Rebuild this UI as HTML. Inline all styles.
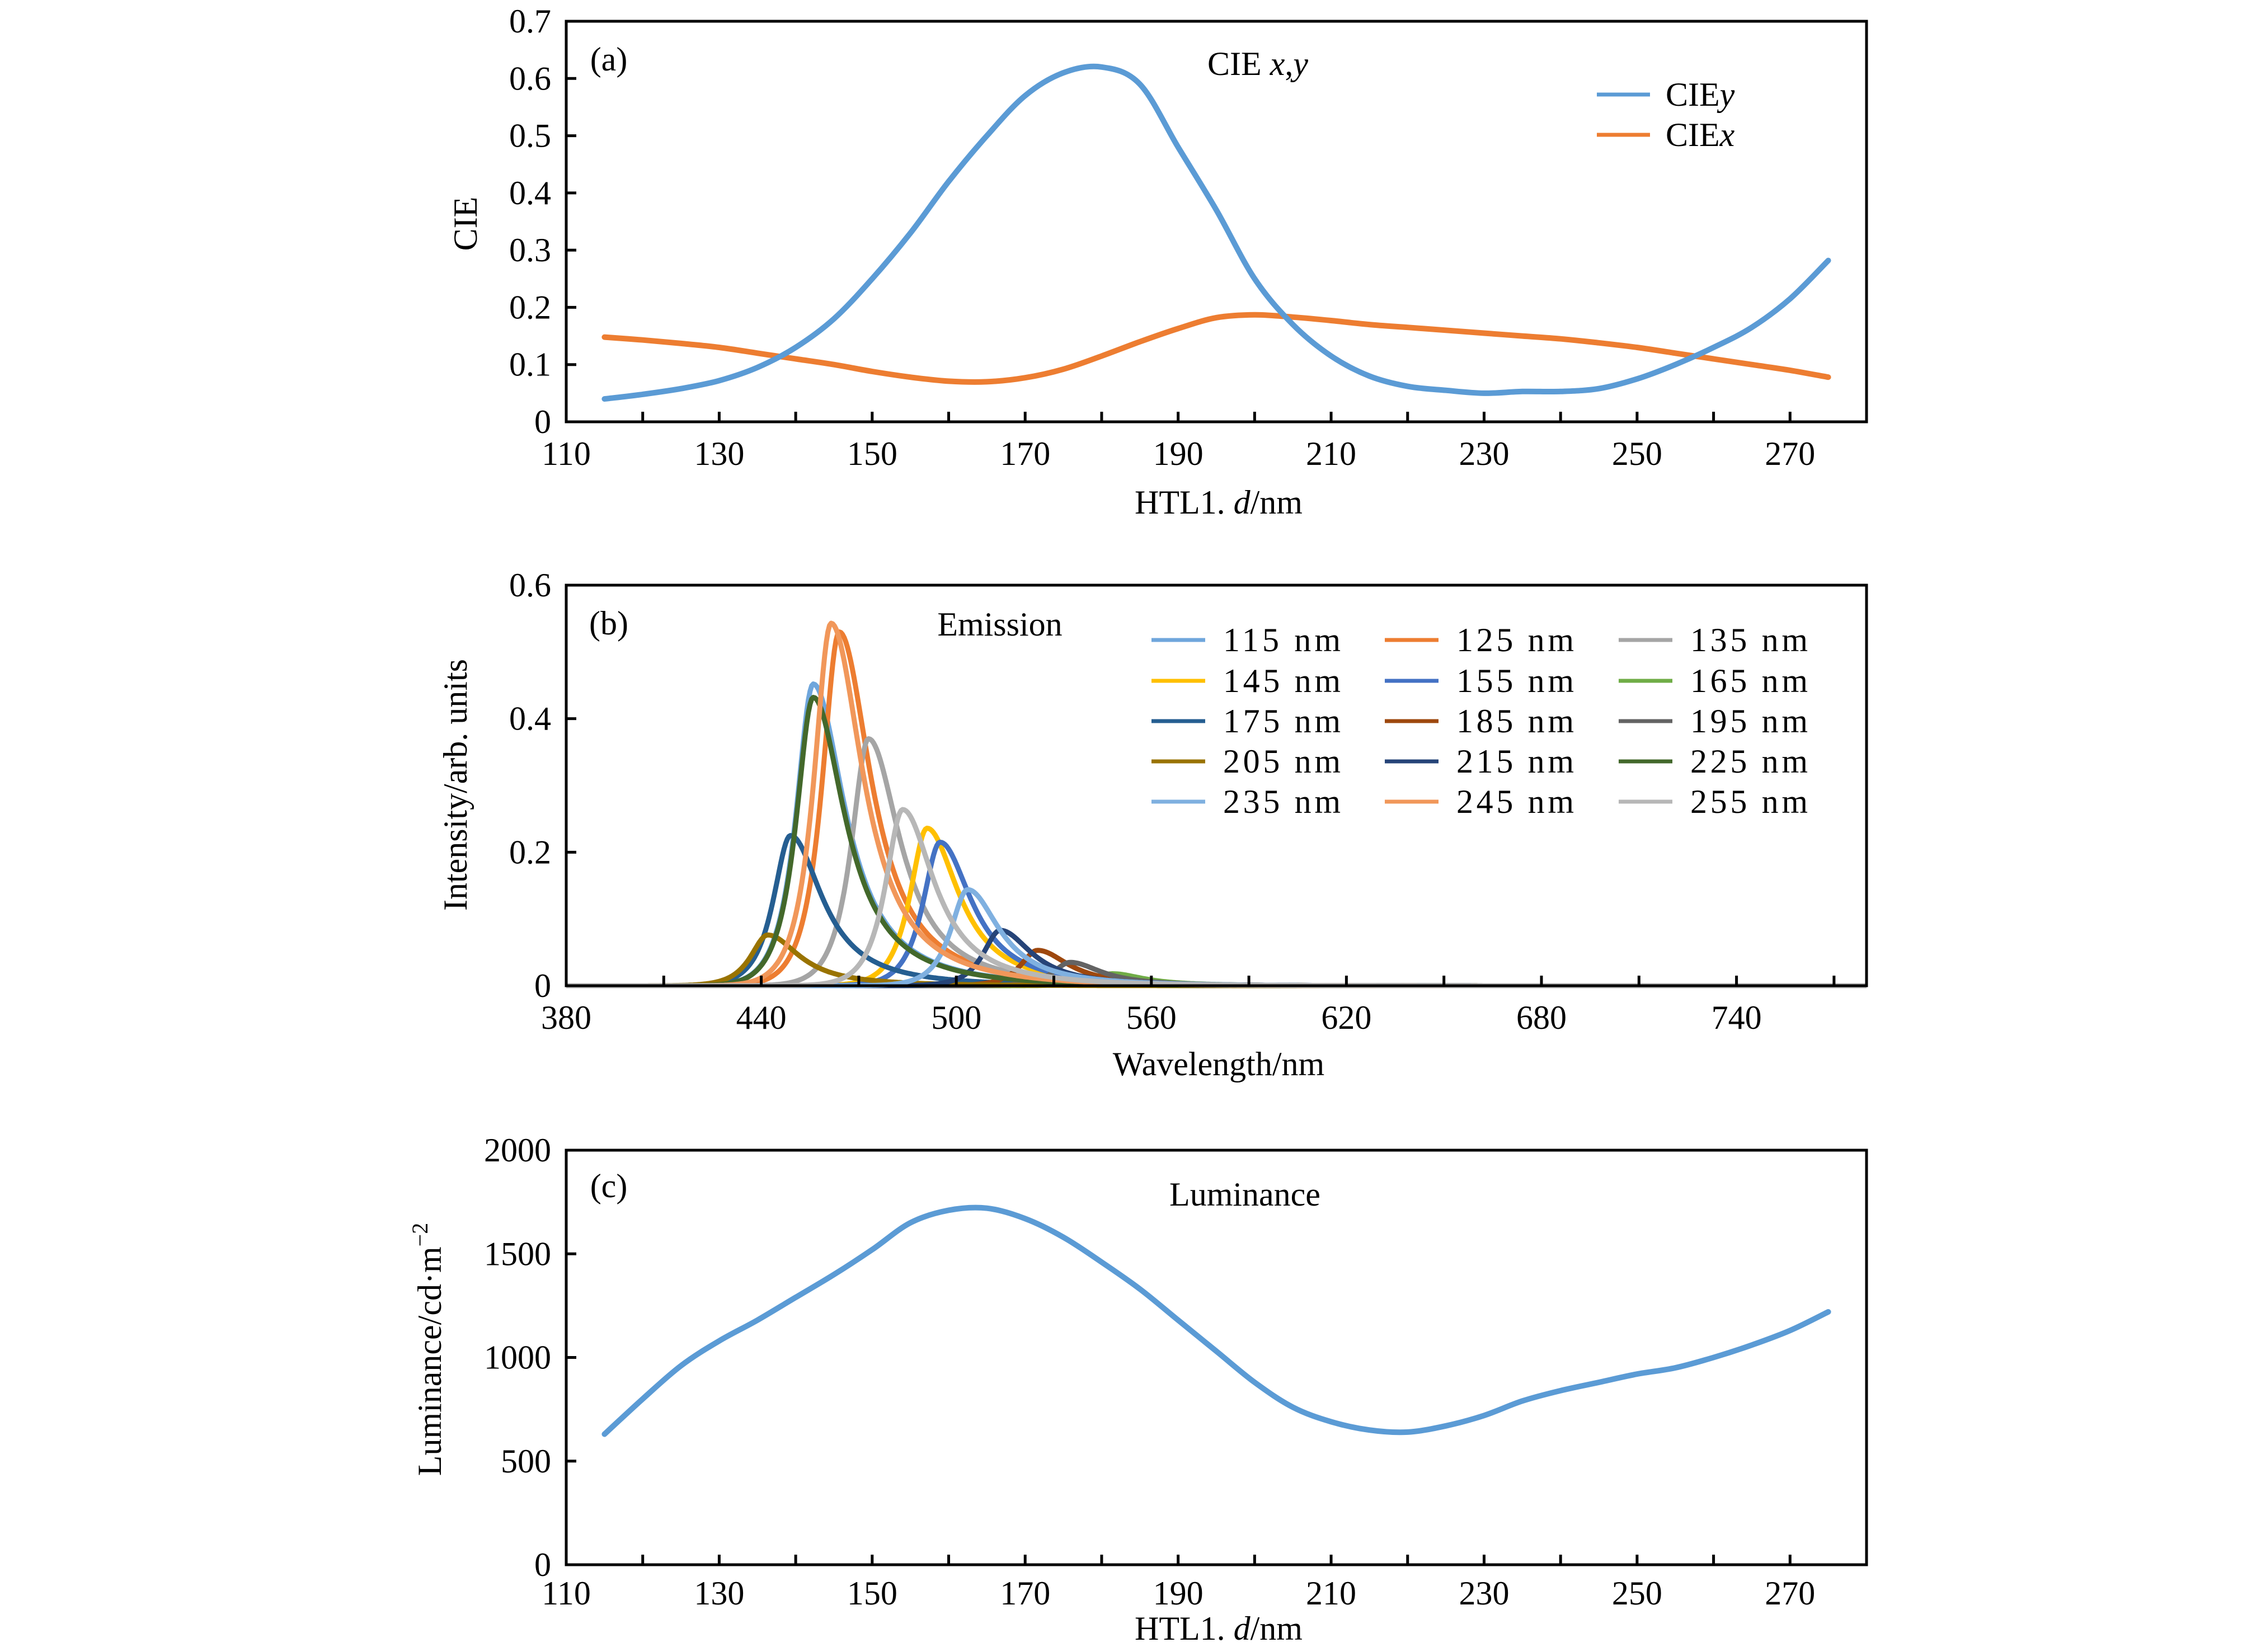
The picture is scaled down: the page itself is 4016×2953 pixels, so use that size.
<!DOCTYPE html>
<html><head><meta charset="utf-8"><style>
html,body{margin:0;padding:0;background:#fff;}
svg{display:block;}
text{font-family:"Liberation Serif",serif;fill:#000;}
</style></head><body>
<svg id="chart" width="4016" height="2953" viewBox="0 0 4016 2953" xmlns="http://www.w3.org/2000/svg"></svg>
<script>
// Panel (a) data
const cieX_d = [115,120,125,130,135,140,145,150,155,160,165,170,175,180,185,190,195,200,205,210,215,220,225,230,235,240,245,250,255,260,265,270,275];
const cieY = [0.04,0.048,0.058,0.072,0.095,0.13,0.18,0.25,0.33,0.42,0.5,0.57,0.61,0.62,0.59,0.48,0.37,0.25,0.17,0.115,0.08,0.062,0.055,0.05,0.053,0.053,0.058,0.075,0.1,0.13,0.165,0.215,0.282];
const cieXv = [0.148,0.143,0.137,0.13,0.12,0.11,0.1,0.088,0.078,0.071,0.07,0.077,0.092,0.115,0.14,0.163,0.182,0.187,0.183,0.177,0.17,0.165,0.16,0.155,0.15,0.145,0.138,0.13,0.12,0.11,0.1,0.09,0.078];
const aXTicks = ['110','130','150','170','190','210','230','250','270'];
const aYTicks = ['0','0.1','0.2','0.3','0.4','0.5','0.6','0.7'];
// Panel (b) data: emission peaks
const emLabels = ['115 nm','125 nm','135 nm','145 nm','155 nm','165 nm','175 nm','185 nm','195 nm','205 nm','215 nm','225 nm','235 nm','245 nm','255 nm'];
const emPeakWl = [456,464,473,491,495,548,449,525,535,442,513.5,456,503.5,461.5,483.5];
const emPeakI = [0.452,0.53,0.37,0.236,0.215,0.018,0.225,0.053,0.035,0.076,0.083,0.432,0.144,0.543,0.264];
const bXTicks = ['380','440','500','560','620','680','740'];
const bYTicks = ['0','0.2','0.4','0.6'];
// Panel (c) data
const lumX = [115,120,125,130,135,140,145,150,155,160,165,170,175,180,185,190,195,200,205,210,215,220,225,230,235,240,245,250,255,260,265,270,275];
const lumY = [630,800,960,1080,1180,1290,1400,1520,1650,1710,1720,1670,1580,1460,1330,1180,1030,880,760,690,650,640,670,720,790,840,880,920,950,1000,1060,1130,1220];
const cXTicks = ['110','130','150','170','190','210','230','250','270'];
const cYTicks = ['0','500','1000','1500','2000'];

const emColors = ['#6fa6dc','#ed7d31','#a5a5a5','#ffc000','#4472c4','#70ad47','#255e91','#9e480e','#636363','#997300','#264478','#43682b','#7fb0e0','#f1975a','#b7b7b7'];
const NS='http://www.w3.org/2000/svg';
const svg=document.getElementById('chart');
function mk(tag,attrs,parent){const e=document.createElementNS(NS,tag);for(const k in attrs)e.setAttribute(k,attrs[k]);(parent||svg).appendChild(e);return e;}
function txt(s,x,y,size,anchor,parent){const t=mk('text',{x:x,y:y,'font-size':size,'text-anchor':anchor||'middle'},parent);t.textContent=s;return t;}
function smooth(pts){let d='M'+pts[0][0].toFixed(1)+','+pts[0][1].toFixed(1);for(let i=0;i<pts.length-1;i++){const p0=pts[i-1]||pts[i],p1=pts[i],p2=pts[i+1],p3=pts[i+2]||p2;const c1=[p1[0]+(p2[0]-p0[0])/6,p1[1]+(p2[1]-p0[1])/6],c2=[p2[0]-(p3[0]-p1[0])/6,p2[1]-(p3[1]-p1[1])/6];d+='C'+c1[0].toFixed(1)+','+c1[1].toFixed(1)+' '+c2[0].toFixed(1)+','+c2[1].toFixed(1)+' '+p2[0].toFixed(1)+','+p2[1].toFixed(1);}return d;}

const L=1012,R=3336,FS=60,TL=18;
function frame(g,top,bot,name){const r=mk('rect',{x:L,y:top,width:R-L,height:bot-top,fill:'none',stroke:'#000','stroke-width':5},g);}

// ---------- Panel A ----------
(function(){
const g=mk('g',{});
const top=38,bot=754,x0=110,x1=280,y1=0.7;
const sx=v=>L+(v-x0)/(x1-x0)*(R-L), sy=v=>bot-v/y1*(bot-top);
frame(g,top,bot,'panel-a');
aYTicks.forEach(t=>{const y=sy(+t);if(+t>0&&+t<y1)mk('line',{x1:L,x2:L+TL,y1:y,y2:y,stroke:'#000','stroke-width':5},g);const e=txt(t,985,y+20,FS,'end',g);});
for(let v=120;v<280;v+=10){mk('line',{x1:sx(v),x2:sx(v),y1:bot,y2:bot-TL,stroke:'#000','stroke-width':5},g);}
aXTicks.forEach(t=>{const e=txt(t,sx(+t),831,FS,'middle',g);});
let e=txt('CIE',0,0,FS,'middle',g);e.setAttribute('transform','translate(852,400) rotate(-90)');
e=mk('text',{x:2178,y:918,'font-size':FS,'text-anchor':'middle'},g);e.innerHTML='HTL1. <tspan font-style="italic">d</tspan>/nm';
e=txt('(a)',1088,126,FS,'middle',g);
e=mk('text',{x:2248,y:134,'font-size':FS,'text-anchor':'middle'},g);e.innerHTML='CIE <tspan font-style="italic">x</tspan>,<tspan font-style="italic">y</tspan>';
let p=mk('path',{d:smooth(cieX_d.map((x,i)=>[sx(x),sy(cieXv[i])])),fill:'none',stroke:'#ed7d31','stroke-width':10,'stroke-linecap':'round'},g);
p=mk('path',{d:smooth(cieX_d.map((x,i)=>[sx(x),sy(cieY[i])])),fill:'none',stroke:'#5b9bd5','stroke-width':10,'stroke-linecap':'round'},g);
[['CIE','y','#5b9bd5',169],['CIE','x','#ed7d31',241]].forEach(a=>{const lg=mk('g',{},g);mk('line',{x1:2854,x2:2949,y1:a[3],y2:a[3],stroke:a[2],'stroke-width':7},lg);const t=mk('text',{x:2977,y:a[3]+20,'font-size':FS},lg);t.innerHTML=a[0]+'<tspan font-style="italic">'+a[1]+'</tspan>';});
})();

// ---------- Panel B ----------
(function(){
const g=mk('g',{});
const top=1046,bot=1762,x0=380,x1=780,y1=0.6;
const sx=v=>L+(v-x0)/(x1-x0)*(R-L), sy=v=>bot-v/y1*(bot-top);
emPeakWl.forEach((wl,i)=>{const pts=[];for(let w=380;w<=780;w+=0.5){const d=w-wl;const hw=d<0?7.5:13;const v=emPeakI[i]/(1+Math.pow(d/hw,2)*1.2)*Math.exp(-Math.pow(d/(d<0?18:90),2));pts.push([sx(w),sy(v)]);}
const p=mk('path',{d:'M'+pts.map(q=>q[0].toFixed(1)+','+q[1].toFixed(1)).join('L'),fill:'none',stroke:emColors[i],'stroke-width':9,'stroke-linejoin':'round'},g);});
frame(g,top,bot,'panel-b');
bYTicks.forEach(t=>{const y=sy(+t);if(+t>0&&+t<y1)mk('line',{x1:L,x2:L+TL,y1:y,y2:y,stroke:'#000','stroke-width':5},g);const e=txt(t,985,y+20,FS,'end',g);});
for(let v=410;v<780;v+=30){mk('line',{x1:sx(v),x2:sx(v),y1:bot,y2:bot-TL,stroke:'#000','stroke-width':5},g);}
bXTicks.forEach(t=>{const e=txt(t,sx(+t),1839,FS,'middle',g);});
let e=txt('Intensity/arb. units',0,0,FS,'middle',g);e.setAttribute('transform','translate(834,1403) rotate(-90)');
e=txt('Wavelength/nm',2178,1922,FS,'middle',g);
e=txt('(b)',1088,1134,FS,'middle',g);
e=txt('Emission',1787,1136,FS,'middle',g);
const colX=[2058,2475,2893],rowY=[1144,1217,1289,1361,1433];
emLabels.forEach((s,i)=>{const c=i%3,r=Math.floor(i/3);const lg=mk('g',{},g);mk('line',{x1:colX[c],x2:colX[c]+96,y1:rowY[r],y2:rowY[r],stroke:emColors[i],'stroke-width':7},lg);const t=txt(s,colX[c]+128,rowY[r]+20,FS,'start',lg);t.setAttribute('textLength','210');});
})();

// ---------- Panel C ----------
(function(){
const g=mk('g',{});
const top=2056,bot=2797,x0=110,x1=280,y1=2000;
const sx=v=>L+(v-x0)/(x1-x0)*(R-L), sy=v=>bot-v/y1*(bot-top);
frame(g,top,bot,'panel-c');
cYTicks.forEach(t=>{const y=sy(+t);if(+t>0&&+t<y1)mk('line',{x1:L,x2:L+TL,y1:y,y2:y,stroke:'#000','stroke-width':5},g);const e=txt(t,985,y+20,FS,'end',g);});
for(let v=120;v<280;v+=10){mk('line',{x1:sx(v),x2:sx(v),y1:bot,y2:bot-TL,stroke:'#000','stroke-width':5},g);}
cXTicks.forEach(t=>{const e=txt(t,sx(+t),2868,FS,'middle',g);});
let e=mk('text',{'font-size':FS,'text-anchor':'middle',transform:'translate(788,2412) rotate(-90)'},g);e.innerHTML='Luminance/cd·m<tspan dy="-24" font-size="40">−2</tspan>';
e=mk('text',{x:2178,y:2931,'font-size':FS,'text-anchor':'middle'},g);e.innerHTML='HTL1. <tspan font-style="italic">d</tspan>/nm';
e=txt('(c)',1088,2140,FS,'middle',g);
e=txt('Luminance',2225,2155,FS,'middle',g);
const p=mk('path',{d:smooth(lumX.map((x,i)=>[sx(x),sy(lumY[i])])),fill:'none',stroke:'#5b9bd5','stroke-width':10,'stroke-linecap':'round'},g);
})();
</script>
</body></html>
